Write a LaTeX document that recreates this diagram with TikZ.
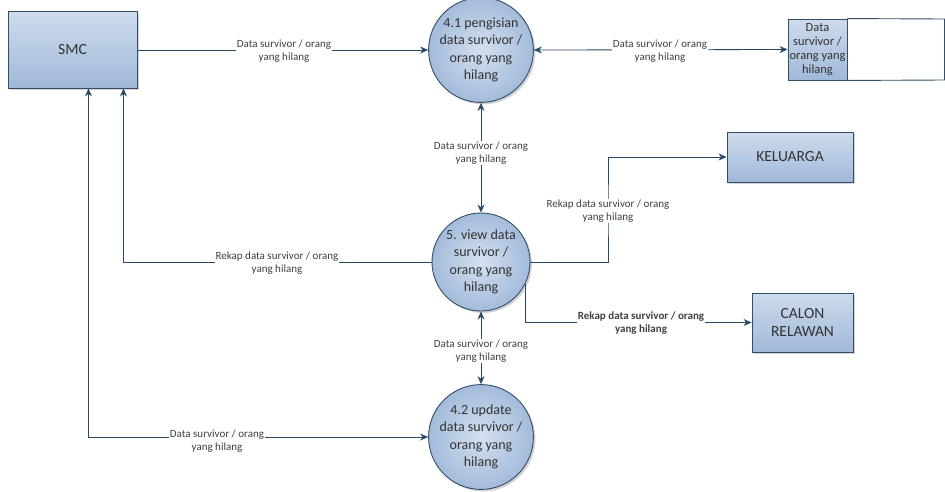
\documentclass[tikz,border=0pt]{standalone}
\usepackage{fontspec}
\setmainfont{Carlito}
\usetikzlibrary{arrows.meta, positioning, shadows}
\definecolor{dfd-line}{RGB}{40,72,104}
\definecolor{dfd-edge}{RGB}{52,78,104}
\definecolor{dfd-top}{RGB}{206,219,236}
\definecolor{dfd-bottom}{RGB}{160,185,217}
\definecolor{dfd-inner}{RGB}{212,224,239}
\definecolor{dfd-outer}{RGB}{163,187,218}

\begin{document}
\begin{tikzpicture}[x=1pt, y=-1pt,
  ext/.style={draw=dfd-edge, line width=0.9pt, top color=dfd-top, bottom color=dfd-bottom, align=center,
    font=\fontsize{15.5}{18}\selectfont, text=black!80,
    drop shadow={opacity=0.35, shadow xshift=2pt, shadow yshift=-2pt}},
  proc/.style={circle, draw=dfd-edge, line width=0.9pt, inner color=dfd-inner, outer color=dfd-outer,
    minimum size=98pt, inner sep=0pt, align=center, font=\fontsize{14}{17.5}\selectfont, text=black!80,
    drop shadow={opacity=0.35, shadow xshift=2pt, shadow yshift=-2pt}},
  lbl/.style={fill=white, inner sep=1pt, align=center, font=\fontsize{11}{13}\selectfont, text=black!75},
  arr/.style={-{Stealth[length=8pt, width=7pt]}, dfd-line, line width=0.8pt},
  arr2/.style={{Stealth[length=8pt, width=7pt]}-{Stealth[length=8pt, width=7pt]}, dfd-line, line width=0.8pt},
]
  \useasboundingbox (0,0) rectangle (945,491);

  % external entities
  \node[ext, minimum width=129pt, minimum height=77pt] (smc) at (72.5,49.5) {SMC};
  \node[ext, minimum width=126pt, minimum height=50pt] (kel) at (790,157) {KELUARGA};
  \node[ext, minimum width=101pt, minimum height=59pt] (cal) at (802.5,322.5) {CALON\\RELAWAN};

  % data store
  \node[draw=dfd-edge, line width=0.9pt, top color=dfd-top, bottom color=dfd-bottom, minimum width=59pt,
    minimum height=61pt, inner sep=0pt, align=center, font=\fontsize{12.5}{14}\selectfont, text=black!80]
    (ds) at (817.5,49.5) {Data\\survivor /\\orang yang\\hilang};
  \draw[dfd-edge, line width=0.9pt] (ds.north east) -- (944.5,19) -- (944.5,80) -- (ds.south east);

  % processes
  \node[proc] (p41) at (481,50) {4.1 pengisian\\data survivor /\\orang yang\\hilang};
  \node[proc] (v5) at (481,262) {5. view data\\survivor /\\orang yang\\hilang};
  \node[proc] (u42) at (481,437) {4.2 update\\data survivor /\\orang yang\\hilang};

  % flows
  \draw[arr] (smc.east |- p41.west) -- (p41.west);
  \draw[arr2] (p41.east) -- (ds.west);
  \draw[arr2] (p41.south) -- (v5.north);
  \draw[arr2] (v5.south) -- (u42.north);
  \draw[arr] (v5.west) -| ([xshift=51pt]smc.south);
  \draw[arr2] ([xshift=16pt]smc.south) |- (u42.west);
  \coordinate (kbend) at (608,211);
  \draw[arr] (v5.east) -| (kbend) |- (kel.west);
  \draw[arr] (v5.-27) |- (cal.west);

  % flow labels
  \node[lbl] (l1) at (284,51) {Data survivor / orang\\yang hilang};
  \node[lbl] (l2) at (660,51) {Data survivor / orang\\yang hilang};
  \node[lbl] (l3) at (481,153) {Data survivor / orang\\yang hilang};
  \node[lbl] (l4) at (277,263) {Rekap data survivor / orang\\yang hilang};
  \node[lbl] (l5) at (kbend) {Rekap data survivor / orang\\yang hilang};
  \node[lbl, font=\fontsize{11}{13}\selectfont\bfseries] (l6) at (641,323) {Rekap data survivor / orang\\yang hilang};
  \node[lbl] (l7) at (481,351) {Data survivor / orang\\yang hilang};
  \node[lbl] (l8) at (217,441) {Data survivor / orang\\yang hilang};
\end{tikzpicture}
\end{document}
